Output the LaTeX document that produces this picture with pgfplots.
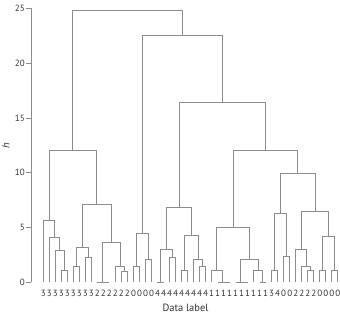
\documentclass[border=0pt]{standalone}
\usepackage{fontspec}
\setmainfont{PT Sans}
\usepackage{pgfplots}
\pgfplotsset{compat=1.18}
\definecolor{lin}{HTML}{8C8C8C}
\definecolor{txt}{HTML}{333333}
\pgfplotsset{den/.style={lin, line width=0.7pt, mark=none}}
\begin{document}
\begin{tikzpicture}
\begin{axis}[
  scale only axis, width=309pt, height=274pt,
  xmin=-1.05, xmax=50.37, ymin=0, ymax=25,
  axis x line*=bottom, axis y line*=left,
  x axis line style={draw=none},
  y axis line style={draw=lin, line width=0.6pt, -},
  xtick={1,...,50},
  xticklabels={3,3,3,3,3,3,3,3,3,2,2,2,2,2,2,0,0,0,0,4,4,4,4,4,4,4,4,4,1,1,1,1,1,1,1,1,1,1,3,4,0,0,2,2,2,2,0,0,0,0},
  xtick style={draw=none},
  ytick={0,5,10,15,20,25},
  ytick style={draw=lin, line width=0.6pt},
  tick align=outside, major tick length=5pt,
  /pgf/number format/assume math mode=true,
  ticklabel style={color=txt, font=\fontsize{9}{10}\selectfont},
  xticklabel style={inner sep=0pt, anchor=north},
  xticklabel shift=2.5pt,
  yticklabel style={inner sep=1pt},
  xlabel={Data label},
  xlabel style={at={(axis description cs:0.5,-0.092)}, anchor=center, color=txt, font=\fontsize{10.5}{12}\selectfont},
  ylabel={\textit{h}},
  ylabel style={at={(axis description cs:-0.081,0.5)}, anchor=center, rotate=0, color=txt, font=\fontsize{10.5}{12}\selectfont},
  clip=false,
]
\coordinate (ll) at (rel axis cs:0,0);
\coordinate (ur) at (rel axis cs:1,1);
% group A
\addplot[den] coordinates {(4,0) (4,1.1) (5,1.1) (5,0)};
\addplot[den] coordinates {(3,0) (3,2.9) (4.5,2.9) (4.5,1.1)};
\addplot[den] coordinates {(2,0) (2,4.1) (3.75,4.1) (3.75,2.9)};
\addplot[den] coordinates {(1,0) (1,5.65) (2.875,5.65) (2.875,4.1)};
% group B
\addplot[den] coordinates {(6,0) (6,1.5) (7,1.5) (7,0)};
\addplot[den] coordinates {(8,0) (8,2.3) (9,2.3) (9,0)};
\addplot[den] coordinates {(6.5,1.5) (6.5,3.2) (8.5,3.2) (8.5,2.3)};
% group C
\addplot[den] coordinates {(11,0) (12,0)};
\addplot[den] coordinates {(10,0) (11.5,0)};
\addplot[den] coordinates {(14,0) (14,1.0) (15,1.0) (15,0)};
\addplot[den] coordinates {(13,0) (13,1.5) (14.5,1.5) (14.5,1.0)};
\addplot[den] coordinates {(10.75,0) (10.75,3.65) (13.75,3.65) (13.75,1.5)};
\addplot[den] coordinates {(7.5,3.2) (7.5,7.15) (12.25,7.15) (12.25,3.65)};
\addplot[den] coordinates {(1.9375,5.65) (1.9375,12.0) (9.875,12.0) (9.875,7.15)};
% group D
\addplot[den] coordinates {(16,0) (16,1.5) (17,1.5) (17,0)};
\addplot[den] coordinates {(18,0) (18,2.05) (19,2.05) (19,0)};
\addplot[den] coordinates {(16.5,1.5) (16.5,4.5) (18.5,4.5) (18.5,2.05)};
% group E
\addplot[den] coordinates {(20,0) (21,0)};
\addplot[den] coordinates {(22,0) (22,2.3) (23,2.3) (23,0)};
\addplot[den] coordinates {(20.5,0) (20.5,3.05) (22.5,3.05) (22.5,2.3)};
\addplot[den] coordinates {(24,0) (24,1.05) (25,1.05) (25,0)};
\addplot[den] coordinates {(27,0) (27,1.5) (28,1.5) (28,0)};
\addplot[den] coordinates {(26,0) (26,2.05) (27.5,2.05) (27.5,1.5)};
\addplot[den] coordinates {(24.5,1.05) (24.5,4.3) (26.75,4.3) (26.75,2.05)};
\addplot[den] coordinates {(21.5,3.05) (21.5,6.8) (25.625,6.8) (25.625,4.3)};
% group F
\addplot[den] coordinates {(31,0) (32,0)};
\addplot[den] coordinates {(30,0) (31.5,0)};
\addplot[den] coordinates {(29,0) (29,1.05) (30.75,1.05) (30.75,0)};
\addplot[den] coordinates {(34,0) (35,0)};
\addplot[den] coordinates {(33,0) (34.5,0)};
\addplot[den] coordinates {(37,0) (38,0)};
\addplot[den] coordinates {(36,0) (36,1.05) (37.5,1.05) (37.5,0)};
\addplot[den] coordinates {(33.75,0) (33.75,2.05) (36.75,2.05) (36.75,1.05)};
\addplot[den] coordinates {(29.875,1.05) (29.875,5.05) (35.25,5.05) (35.25,2.05)};
% group G
\addplot[den] coordinates {(39,0) (39,1.05) (40,1.05) (40,0)};
\addplot[den] coordinates {(41,0) (41,2.35) (42,2.35) (42,0)};
\addplot[den] coordinates {(39.5,1.05) (39.5,6.3) (41.5,6.3) (41.5,2.35)};
\addplot[den] coordinates {(45,0) (45,1.05) (46,1.05) (46,0)};
\addplot[den] coordinates {(44,0) (44,1.5) (45.5,1.5) (45.5,1.05)};
\addplot[den] coordinates {(43,0) (43,3.05) (44.75,3.05) (44.75,1.5)};
\addplot[den] coordinates {(47,0) (47,1.05) (48,1.05) (48,0)};
\addplot[den] coordinates {(49,0) (49,1.05) (50,1.05) (50,0)};
\addplot[den] coordinates {(47.5,1.05) (47.5,4.15) (49.5,4.15) (49.5,1.05)};
\addplot[den] coordinates {(43.875,3.05) (43.875,6.45) (48.5,6.45) (48.5,4.15)};
\addplot[den] coordinates {(40.5,6.3) (40.5,9.9) (46.1875,9.9) (46.1875,6.45)};
% upper levels
\addplot[den] coordinates {(32.5625,5.05) (32.5625,12.0) (43.34375,12.0) (43.34375,9.9)};
\addplot[den] coordinates {(23.5625,6.8) (23.5625,16.4) (37.953,16.4) (37.953,12.0)};
\addplot[den] coordinates {(17.5,4.5) (17.5,22.55) (30.758,22.55) (30.758,16.4)};
\addplot[den] coordinates {(5.906,12.0) (5.906,24.85) (24.129,24.85) (24.129,22.55)};
\end{axis}
\pgfresetboundingbox
\path[use as bounding box] ([shift={(-31pt,-32.7pt)}]ll) rectangle ([shift={(0pt,8.3pt)}]ur);
\end{tikzpicture}
\end{document}
